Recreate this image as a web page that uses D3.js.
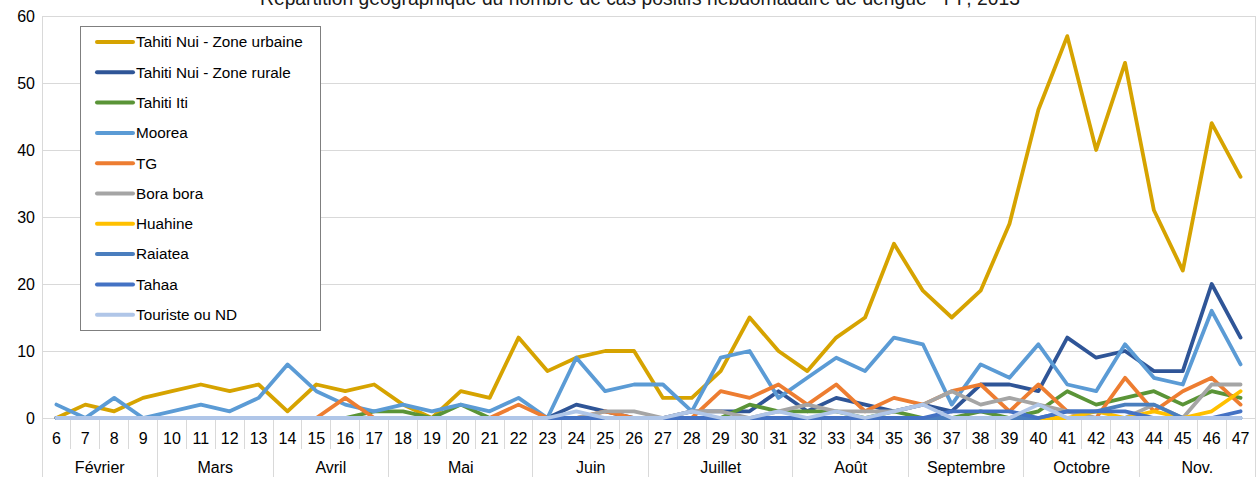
<!DOCTYPE html>
<html>
<head>
<meta charset="utf-8">
<script src="https://cdn.jsdelivr.net/npm/d3@7"></script>
<style>
  html, body { margin: 0; padding: 0; background: #fff; }
  svg { display: block; font-family: 'Liberation Sans', Arial, sans-serif; }
</style>
</head>
<body>
<div id="chart"></div>
<script>
// semaines 6 a 47
const weeks = d3.range(6, 48);
const months = [
  { name: 'Février', from: 6, to: 9 },
  { name: 'Mars', from: 10, to: 13 },
  { name: 'Avril', from: 14, to: 17 },
  { name: 'Mai', from: 18, to: 22 },
  { name: 'Juin', from: 23, to: 26 },
  { name: 'Juillet', from: 27, to: 31 },
  { name: 'Août', from: 32, to: 35 },
  { name: 'Septembre', from: 36, to: 39 },
  { name: 'Octobre', from: 40, to: 43 },
  { name: 'Nov.', from: 44, to: 47 }
];
const yTicks = [0, 10, 20, 30, 40, 50, 60];

const urbaine = [0, 2, 1, 3, 4, 5, 4, 5, 1, 5, 4, 5, 2, 0, 4, 3, 12, 7, 9, 10, 10, 3, 3, 7, 15, 10, 7, 12, 15, 26, 19, 15, 19, 29, 46, 57, 40, 53, 31, 22, 44, 36];
const rurale = [0, 0, 0, 0, 0, 0, 0, 0, 0, 0, 0, 0, 0, 0, 0, 0, 0, 0, 2, 1, 0, 0, 1, 1, 1, 4, 1, 3, 2, 1, 2, 1, 5, 5, 4, 12, 9, 10, 7, 7, 20, 12];
const iti = [0, 0, 0, 0, 0, 0, 0, 0, 0, 0, 0, 1, 1, 0, 2, 0, 0, 0, 0, 0, 0, 0, 0, 0, 2, 1, 1, 1, 0, 1, 0, 0, 1, 0, 1, 4, 2, 3, 4, 2, 4, 3];
const moorea = [2, 0, 3, 0, 1, 2, 1, 3, 8, 4, 2, 1, 2, 1, 2, 1, 3, 0, 9, 4, 5, 5, 1, 9, 10, 3, 6, 9, 7, 12, 11, 2, 8, 6, 11, 5, 4, 11, 6, 5, 16, 8];
const tg = [0, 0, 0, 0, 0, 0, 0, 0, 0, 0, 3, 0, 0, 0, 0, 0, 2, 0, 0, 1, 0, 0, 0, 4, 3, 5, 2, 5, 1, 3, 2, 4, 5, 1, 5, 1, 0, 6, 1, 4, 6, 2];
const bora = [0, 0, 0, 0, 0, 0, 0, 0, 0, 0, 0, 0, 0, 0, 0, 0, 0, 0, 0, 1, 1, 0, 1, 1, 0, 1, 2, 1, 1, 1, 2, 4, 2, 3, 2, 1, 0, 0, 2, 0, 5, 5];
const huahine = [0, 0, 0, 0, 0, 0, 0, 0, 0, 0, 0, 0, 0, 0, 0, 0, 0, 0, 0, 0, 0, 0, 0, 0, 0, 0, 0, 0, 0, 0, 0, 0, 0, 0, 0, 0, 1, 0, 1, 0, 1, 4];
const raiatea = [0, 0, 0, 0, 0, 0, 0, 0, 0, 0, 0, 0, 0, 0, 0, 0, 0, 0, 0, 0, 0, 0, 0, 0, 0, 0, 0, 0, 0, 0, 0, 0, 0, 0, 0, 1, 1, 2, 2, 0, 0, 0];
const tahaa = [0, 0, 0, 0, 0, 0, 0, 0, 0, 0, 0, 0, 0, 0, 0, 0, 0, 0, 0, 0, 0, 0, 0, 0, 0, 0, 0, 0, 0, 0, 0, 1, 1, 1, 0, 1, 1, 1, 0, 0, 0, 1];
const touriste = [0, 0, 0, 0, 0, 0, 0, 0, 0, 0, 0, 0, 0, 0, 0, 0, 0, 0, 1, 0, 0, 0, 1, 0, 0, 1, 0, 1, 0, 1, 2, 0, 0, 0, 2, 0, 0, 0, 0, 0, 0, 0];

const series = [
  { name: 'Tahiti Nui - Zone urbaine', values: urbaine, color: '#D6A300' },
  { name: 'Tahiti Nui - Zone rurale', values: rurale, color: '#2F5597' },
  { name: 'Tahiti Iti', values: iti, color: '#5A9437' },
  { name: 'Moorea', values: moorea, color: '#5B9BD5' },
  { name: 'TG', values: tg, color: '#ED7D31' },
  { name: 'Bora bora', values: bora, color: '#A5A5A5' },
  { name: 'Huahine', values: huahine, color: '#FFC000' },
  { name: 'Raiatea', values: raiatea, color: '#4A7EBE' },
  { name: 'Tahaa', values: tahaa, color: '#4472C4' },
  { name: 'Touriste ou ND', values: touriste, color: '#B0C6E8' }
];

const width = 1259;
const height = 477;
const margin = { left: 42, right: 4, top: 16, bottom: 59 };

const svg = d3.select('#chart').append('svg')
  .attr('width', width)
  .attr('height', height);

const x = d3.scaleBand()
  .domain(weeks)
  .range([margin.left, width - margin.right])
  .padding(0);
const y = d3.scaleLinear()
  .domain([0, 60])
  .range([height - margin.bottom, margin.top]);

const gridColor = '#D9D9D9';

// grille horizontale
svg.append('g').selectAll('line').data(yTicks).enter()
  .append('line')
  .attr('x1', margin.left).attr('x2', width - margin.right)
  .attr('y1', d => y(d)).attr('y2', d => y(d))
  .attr('stroke', gridColor).attr('stroke-width', 1)
  .attr('shape-rendering', 'crispEdges');

// axe vertical a gauche et bord droit
svg.append('line')
  .attr('x1', margin.left).attr('x2', margin.left)
  .attr('y1', y(60)).attr('y2', height)
  .attr('stroke', gridColor).attr('shape-rendering', 'crispEdges');
svg.append('line')
  .attr('x1', width - margin.right).attr('x2', width - margin.right)
  .attr('y1', y(60)).attr('y2', height)
  .attr('stroke', gridColor).attr('shape-rendering', 'crispEdges');

// libelles axe Y
svg.append('g').selectAll('text').data(yTicks).enter()
  .append('text')
  .attr('x', 35)
  .attr('y', d => y(d))
  .attr('dy', '0.35em')
  .attr('text-anchor', 'end')
  .attr('font-size', 16)
  .attr('fill', '#000')
  .text(d => d);

// separateurs de semaines
svg.append('g').selectAll('line').data(weeks.slice(1)).enter()
  .append('line')
  .attr('x1', d => x(d)).attr('x2', d => x(d))
  .attr('y1', y(0)).attr('y2', y(0) + 31)
  .attr('stroke', gridColor).attr('shape-rendering', 'crispEdges');

// separateurs de mois
svg.append('g').selectAll('line').data(months.slice(1)).enter()
  .append('line')
  .attr('x1', d => x(d.from)).attr('x2', d => x(d.from))
  .attr('y1', y(0)).attr('y2', height)
  .attr('stroke', gridColor).attr('shape-rendering', 'crispEdges');

// libelles semaines
svg.append('g').selectAll('text').data(weeks).enter()
  .append('text')
  .attr('x', d => x(d) + x.bandwidth() / 2)
  .attr('y', y(0) + 26)
  .attr('text-anchor', 'middle')
  .attr('font-size', 16)
  .attr('fill', '#000')
  .text(d => d);

// libelles mois
svg.append('g').selectAll('text').data(months).enter()
  .append('text')
  .attr('x', d => (x(d.from) + x(d.to) + x.bandwidth()) / 2)
  .attr('y', y(0) + 55)
  .attr('text-anchor', 'middle')
  .attr('font-size', 16)
  .attr('fill', '#000')
  .text(d => d.name);

// courbes
const line = d3.line()
  .x((d, i) => x(weeks[i]) + x.bandwidth() / 2)
  .y(d => y(d));

svg.append('g').selectAll('path').data(series).enter()
  .append('path')
  .attr('d', d => line(d.values))
  .attr('fill', 'none')
  .attr('stroke', d => d.color)
  .attr('stroke-width', 3.8)
  .attr('stroke-linejoin', 'round')
  .attr('stroke-linecap', 'round');

// titre (coupe en haut comme dans l'original)
svg.append('text')
  .attr('x', 640)
  .attr('y', 5)
  .attr('text-anchor', 'middle')
  .attr('font-size', 19.3)
  .attr('fill', '#1a1a1a')
  .text('Répartition géographique du nombre de cas positifs hebdomadaire de dengue - PF, 2013');

// legende
const legend = svg.append('g');
legend.append('rect')
  .attr('x', 80.5).attr('y', 26.5)
  .attr('width', 240).attr('height', 304)
  .attr('fill', '#fff')
  .attr('stroke', '#7F7F7F').attr('stroke-width', 1);
const items = legend.selectAll('g.item').data(series).enter()
  .append('g').attr('class', 'item')
  .attr('transform', (d, i) => `translate(0, ${42 + i * 30.3})`);
items.append('line')
  .attr('x1', 97).attr('x2', 133)
  .attr('stroke', d => d.color)
  .attr('stroke-width', 4)
  .attr('stroke-linecap', 'round');
items.append('text')
  .attr('x', 136)
  .attr('dy', '0.35em')
  .attr('font-size', 15.3)
  .attr('fill', '#000')
  .text(d => d.name);
</script>
</body>
</html>
